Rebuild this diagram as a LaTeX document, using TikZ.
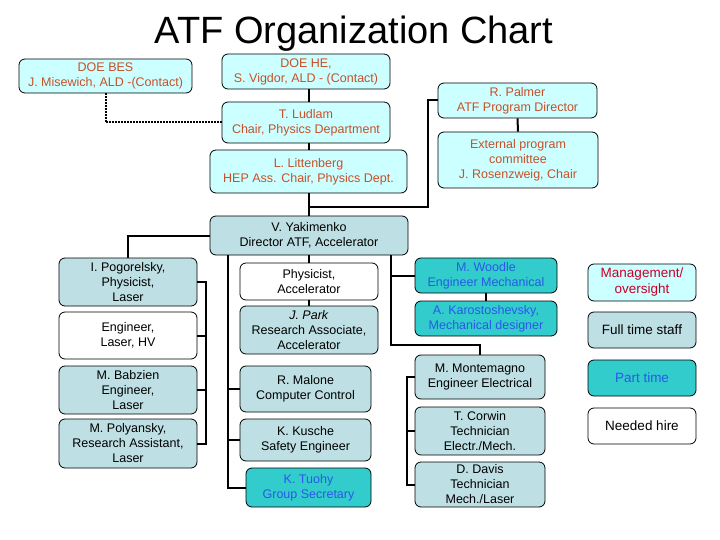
\documentclass[tikz,border=0pt]{standalone}
\usepackage{fontspec}
\setmainfont{Liberation Sans}
\definecolor{mgfill}{RGB}{204,255,255}
\definecolor{mgtext}{RGB}{200,80,40}
\definecolor{mgred}{RGB}{200,0,40}
\definecolor{ftfill}{RGB}{190,224,228}
\definecolor{ptfill}{RGB}{51,204,204}
\definecolor{pttext}{RGB}{40,90,230}
\tikzset{
  box/.style={draw=black, line width=0.8pt, rounded corners=6pt, align=center, inner sep=1pt,
    font=\fontsize{12.5}{15}\selectfont},
  mgmt/.style={box, fill=mgfill, text=mgtext},
  full/.style={box, fill=ftfill, text=black},
  part/.style={box, fill=ptfill, text=pttext},
  hire/.style={box, fill=white, text=black},
  legend/.style={font=\fontsize{13.5}{16}\selectfont},
  conn/.style={line width=2pt, black},
  dotconn/.style={line width=2pt, black, dash pattern=on 1.5pt off 1.5pt},
}
\begin{document}
\begin{tikzpicture}[x=1pt, y=-1pt]
\useasboundingbox (0,0) rectangle (720,540);
\node[anchor=base, font=\fontsize{38}{42}\selectfont] (title) at (354,44) {ATF Organization Chart};

% management
\node[mgmt, minimum width=173, minimum height=34] (bes) at (105.5,76) {DOE BES\\J. Misewich, ALD -(Contact)};
\node[mgmt, minimum width=168, minimum height=35] (he) at (306,71.5) {DOE HE,\\S. Vigdor, ALD - (Contact)};
\node[mgmt, minimum width=168, minimum height=41] (lud) at (306,122.5) {T. Ludlam\\Chair, Physics Department};
\node[mgmt, minimum width=197, minimum height=43] (lit) at (308.5,171.5) {L. Littenberg\\HEP Ass. Chair, Physics Dept.};
\node[mgmt, minimum width=159, minimum height=35] (pal) at (517.5,100.5) {R. Palmer\\ATF Program Director};
\node[mgmt, minimum width=160, minimum height=56] (ext) at (518,160) {External program\\committee\\J. Rosenzweig, Chair};

% director
\node[full, minimum width=198, minimum height=39] (yak) at (309,235.5) {V. Yakimenko\\Director ATF, Accelerator};

% left column
\node[full, minimum width=138, minimum height=48] (pog) at (128,282) {I. Pogorelsky,\\Physicist,\\Laser};
\node[hire, minimum width=138, minimum height=47] (eng) at (128,335.5) {Engineer,\\Laser, HV};
\node[full, minimum width=138, minimum height=48] (bab) at (128,390) {M. Babzien\\Engineer,\\Laser};
\node[full, minimum width=138, minimum height=49] (pol) at (128,443.5) {M. Polyansky,\\Research Assistant,\\Laser};

% middle column
\node[hire, minimum width=138, minimum height=37] (phy) at (309,281.5) {Physicist,\\Accelerator};
\node[full, minimum width=138, minimum height=48] (park) at (309,330) {\textit{J. Park}\\Research Associate,\\Accelerator};
\node[full, minimum width=131, minimum height=46] (mal) at (305.5,389) {R. Malone\\Computer Control};
\node[full, minimum width=131, minimum height=42] (kus) at (305.5,440) {K. Kusche\\Safety Engineer};
\node[part, minimum width=125, minimum height=39] (tuo) at (308.5,487.5) {K. Tuohy\\Group Secretary};

% right column
\node[part, minimum width=142, minimum height=35] (woo) at (486,275.5) {M. Woodle\\Engineer Mechanical};
\node[part, minimum width=142, minimum height=35] (kar) at (486,318.5) {A. Karostoshevsky,\\Mechanical designer};
\node[full, minimum width=130, minimum height=44] (mon) at (480,377) {M. Montemagno\\Engineer Electrical};
\node[full, minimum width=130, minimum height=48] (cor) at (480,431) {T. Corwin\\Technician\\Electr./Mech.};
\node[full, minimum width=130, minimum height=45] (dav) at (480,484.5) {D. Davis\\Technician\\Mech./Laser};

% legend
\node[mgmt, legend, text=mgred, minimum width=108, minimum height=37] (lmg) at (642,282.5) {Management/\\oversight};
\node[full, legend, minimum width=108, minimum height=36] (lft) at (642,330) {Full time staff};
\node[part, legend, minimum width=108, minimum height=36] (lpt) at (642,378) {Part time};
\node[hire, legend, minimum width=108, minimum height=36] (lnh) at (642,426) {Needed hire};

% helper coordinates
\coordinate (pj) at (428,207);
\coordinate (yj) at (309,207);
\coordinate (lbx) at (206,0);
\coordinate (mx) at (228,0);
\coordinate (rx) at (391,0);
\coordinate (rj) at (391,345);
\coordinate (rbx) at (407,0);

% connectors
\draw[conn] (he.south -| yak) -- (lud.north -| yak);
\draw[conn] (lud.south -| yak) -- (lit.north -| yak);
\draw[conn] (lit.south -| yak) -- (yak.north);
\draw[conn] (pal.west) -| (pj) -- (yj);
\draw[conn] (pal.south) -- (ext.north);
\draw[dotconn] (bes.south) |- (lud.west);

\draw[conn] (yak.west) -| (pog.north);
\draw[conn] (pog.east) -- (pog.east -| lbx) -- (pol.east -| lbx) -- (pol.east);
\draw[conn] (eng.east) -- (eng.east -| lbx);
\draw[conn] (bab.east) -- (bab.east -| lbx);

\draw[conn] (yak.south) -- (phy.north);
\draw[conn] (phy.south) -- (park.north);
\draw[conn] (yak.south -| mx) -- (tuo.west -| mx) -- (tuo.west);
\draw[conn] (mal.west -| mx) -- (mal.west);
\draw[conn] (kus.west -| mx) -- (kus.west);

\draw[conn] (yak.south -| rx) -- (rj) -| (mon.north);
\draw[conn] (woo.west -| rx) -- (woo.west);
\draw[conn] (woo.south) -- (kar.north);
\draw[conn] (mon.west) -- (mon.west -| rbx) -- (dav.west -| rbx) -- (dav.west);
\draw[conn] (cor.west) -- (cor.west -| rbx);
\end{tikzpicture}
\end{document}
